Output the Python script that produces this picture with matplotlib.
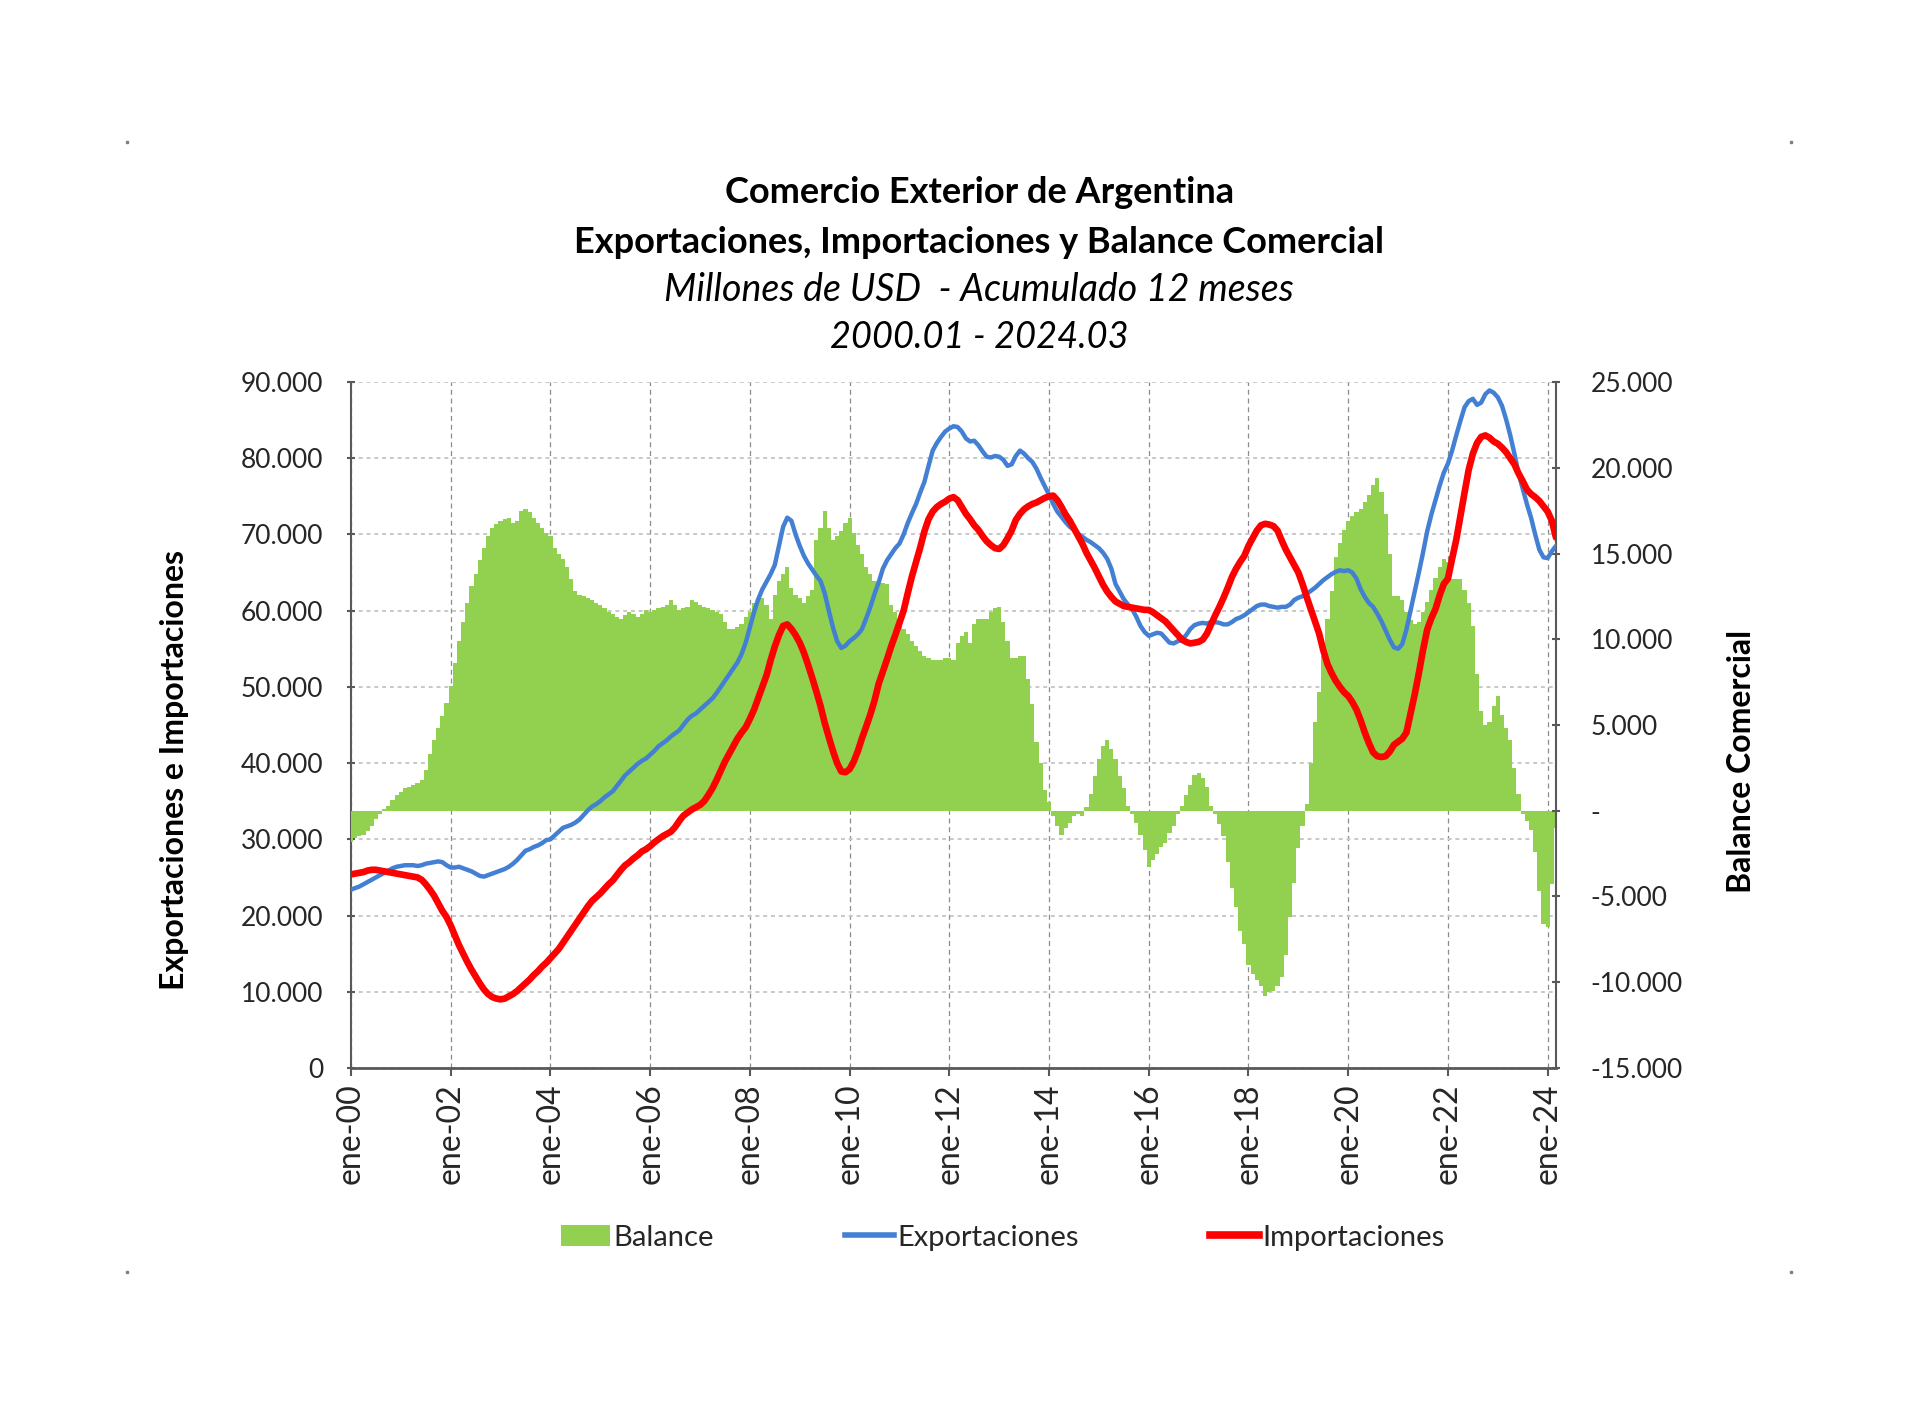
import numpy as np
import matplotlib
matplotlib.use('Agg')
import matplotlib.pyplot as plt
from matplotlib.patches import Patch
from matplotlib.lines import Line2D
from matplotlib.ticker import FuncFormatter

plt.rcParams['font.family'] = ['Lato', 'DejaVu Sans']

# Acumulado 12 meses, miles de millones de USD, mensual 2000.01 - 2024.03
exportaciones = [
    23.4, 23.6, 23.8, 24.1, 24.4, 24.7, 25.0, 25.3, 25.6, 25.9, 26.2, 26.4,  # 2000
    26.5, 26.6, 26.6, 26.6, 26.5, 26.6, 26.8, 26.9, 27.0, 27.1, 27.0, 26.6,  # 2001
    26.3, 26.3, 26.4, 26.2, 26.0, 25.8, 25.5, 25.2, 25.1, 25.3, 25.5, 25.7,  # 2002
    25.9, 26.1, 26.4, 26.8, 27.3, 27.9, 28.5, 28.7, 29.0, 29.2, 29.5, 29.9,  # 2003
    30.0, 30.5, 31.0, 31.5, 31.7, 31.9, 32.2, 32.6, 33.2, 33.8, 34.3, 34.6,  # 2004
    35.0, 35.5, 35.9, 36.3, 37.0, 37.7, 38.4, 38.9, 39.4, 39.9, 40.3, 40.6,  # 2005
    41.1, 41.6, 42.2, 42.6, 43.0, 43.5, 43.9, 44.3, 45.0, 45.7, 46.2, 46.5,  # 2006
    47.0, 47.5, 48.0, 48.5, 49.2, 50.0, 50.8, 51.6, 52.4, 53.2, 54.3, 55.8,  # 2007
    57.8, 59.8, 61.5, 62.8, 63.8, 64.8, 66.0, 68.5, 71.0, 72.2, 71.8, 70.0,  # 2008
    68.5, 67.2, 66.2, 65.4, 64.6, 63.9, 62.3, 60.0, 57.8, 56.0, 55.1, 55.4,  # 2009
    56.0, 56.4, 56.9, 57.6, 59.0, 60.5, 62.2, 63.7, 65.5, 66.6, 67.4, 68.2,  # 2010
    68.8, 70.0, 71.5, 72.8, 74.0, 75.5, 76.9, 79.0, 81.0, 82.0, 82.8, 83.5,  # 2011
    83.9, 84.2, 84.1, 83.5, 82.6, 82.2, 82.3, 81.7, 80.9, 80.2, 80.1, 80.3,  # 2012
    80.2, 79.8, 79.0, 79.2, 80.3, 81.0, 80.6, 80.0, 79.5, 78.6, 77.4, 76.3,  # 2013
    75.2, 74.0, 73.0, 72.3, 71.6, 71.0, 70.6, 70.1, 69.7, 69.3, 69.0, 68.6,  # 2014
    68.2, 67.6, 66.8, 65.5, 63.5, 62.5, 61.5, 60.8, 60.2, 59.2, 58.0, 57.2,  # 2015
    56.7, 56.9, 57.1, 57.0, 56.4, 55.8, 55.7, 56.0, 56.2, 56.8, 57.6, 58.1,  # 2016
    58.3, 58.4, 58.3, 58.5, 58.5, 58.4, 58.2, 58.2, 58.5, 58.9, 59.1, 59.4,  # 2017
    59.8, 60.2, 60.6, 60.8, 60.8, 60.6, 60.5, 60.4, 60.5, 60.5, 60.8, 61.4,  # 2018
    61.7, 61.9, 62.2, 62.6, 63.0, 63.5, 64.0, 64.4, 64.8, 65.1, 65.3, 65.2,  # 2019
    65.3, 65.0, 64.2, 62.8, 61.8, 61.0, 60.5, 59.6, 58.6, 57.4, 56.2, 55.2,  # 2020
    55.0, 55.6, 57.5, 60.0, 62.5, 65.0, 67.6, 70.4, 72.6, 74.5, 76.4, 78.1,  # 2021
    79.3, 81.0, 83.0, 84.9, 86.7, 87.5, 87.8, 87.0, 87.3, 88.4, 88.9, 88.6,  # 2022
    88.0, 86.9, 85.1, 83.0, 80.6, 78.0, 76.0, 74.0, 72.2, 70.0, 68.0, 67.0,  # 2023
    66.9, 67.8, 68.5,                                                        # 2024
]

importaciones = [
    25.4, 25.5, 25.6, 25.7, 25.9, 26.0, 26.0, 25.9, 25.8, 25.7, 25.6, 25.5,  # 2000
    25.4, 25.3, 25.2, 25.1, 25.0, 24.7, 24.1, 23.4, 22.6, 21.6, 20.6, 19.8,  # 2001
    18.7, 17.4, 16.1, 15.0, 13.9, 12.9, 12.0, 11.1, 10.3, 9.7, 9.3, 9.1,     # 2002
    9.0, 9.1, 9.4, 9.7, 10.1, 10.6, 11.1, 11.6, 12.2, 12.7, 13.3, 13.8,      # 2003
    14.4, 15.0, 15.6, 16.4, 17.2, 18.0, 18.8, 19.6, 20.4, 21.2, 21.9, 22.4,  # 2004
    22.9, 23.5, 24.1, 24.6, 25.3, 26.0, 26.6, 27.0, 27.5, 27.9, 28.4, 28.7,  # 2005
    29.1, 29.6, 30.0, 30.4, 30.7, 31.0, 31.6, 32.4, 33.1, 33.5, 33.9, 34.2,  # 2006
    34.5, 35.0, 35.8, 36.7, 37.8, 39.0, 40.2, 41.2, 42.2, 43.2, 44.0, 44.7,  # 2007
    45.8, 47.0, 48.5, 50.0, 51.5, 53.5, 55.3, 56.8, 58.0, 58.2, 57.6, 56.8,  # 2008
    55.8, 54.5, 52.9, 51.2, 49.4, 47.5, 45.3, 43.4, 41.6, 40.0, 38.9, 38.8,  # 2009
    39.2, 40.2, 41.6, 43.3, 44.8, 46.4, 48.2, 50.4, 52.0, 53.6, 55.3, 56.8,  # 2010
    58.4, 60.0, 62.3, 64.5, 66.4, 68.3, 70.4, 72.0, 73.0, 73.6, 74.0, 74.3,  # 2011
    74.7, 74.9, 74.5, 73.6, 72.7, 72.0, 71.2, 70.6, 69.8, 69.1, 68.6, 68.2,  # 2012
    68.1, 68.6, 69.5, 70.5, 71.9, 72.7, 73.3, 73.7, 74.0, 74.2, 74.5, 74.8,  # 2013
    75.0, 75.1, 74.5, 73.6, 72.6, 71.8, 70.8, 69.8, 68.8, 67.6, 66.6, 65.6,  # 2014
    64.5, 63.4, 62.5, 61.8, 61.2, 60.9, 60.6, 60.5, 60.4, 60.3, 60.2, 60.1,  # 2015
    60.1, 59.8, 59.4, 59.0, 58.6, 58.0, 57.4, 56.8, 56.2, 55.9, 55.7, 55.8,  # 2016
    55.9, 56.2, 57.0, 58.2, 59.4, 60.5, 61.7, 63.0, 64.4, 65.5, 66.4, 67.2,  # 2017
    68.5, 69.5, 70.5, 71.2, 71.4, 71.3, 71.1, 70.5, 69.2, 68.0, 67.0, 66.0,  # 2018
    65.0, 63.5, 61.8, 60.2, 58.6, 57.0, 54.8, 53.0, 51.8, 50.8, 50.0, 49.3,  # 2019
    48.8, 48.0, 47.0, 45.6, 44.0, 42.6, 41.4, 40.9, 40.8, 40.9, 41.5, 42.4,  # 2020
    42.8, 43.2, 44.0, 46.5, 49.0, 51.8, 54.8, 57.5, 59.0, 60.2, 62.0, 63.5,  # 2021
    64.2, 66.8, 69.3, 72.4, 75.5, 78.5, 80.6, 82.0, 82.8, 83.0, 82.7, 82.2,  # 2022
    81.9, 81.4, 80.8, 80.0, 79.2, 78.0, 77.0, 75.9, 75.3, 74.9, 74.4, 73.7,  # 2023
    73.0, 71.8, 69.6,                                                        # 2024
]

balance = [
    -1.8, -1.6, -1.5, -1.4, -1.2, -0.9, -0.5, -0.2, 0.1, 0.3, 0.6, 0.9,     # 2000
    1.1, 1.3, 1.4, 1.5, 1.6, 1.8, 2.4, 3.3, 4.1, 4.8, 5.5, 6.3,              # 2001
    7.3, 8.6, 9.9, 11.0, 12.1, 13.1, 13.8, 14.6, 15.3, 16.0, 16.5, 16.7,     # 2002
    16.9, 17.0, 17.1, 16.8, 16.9, 17.5, 17.6, 17.4, 17.1, 16.8, 16.5, 16.2,  # 2003
    16.0, 15.3, 15.0, 14.7, 14.2, 13.5, 12.8, 12.6, 12.5, 12.4, 12.3, 12.1,  # 2004
    12.0, 11.8, 11.6, 11.5, 11.3, 11.2, 11.4, 11.6, 11.5, 11.3, 11.5, 11.7,  # 2005
    11.6, 11.7, 11.8, 11.9, 12.0, 12.3, 12.0, 11.7, 11.8, 11.9, 12.3, 12.2,  # 2006
    12.0, 11.9, 11.8, 11.7, 11.6, 11.5, 11.0, 10.6, 10.6, 10.7, 10.9, 11.3,  # 2007
    11.6, 12.1, 12.3, 12.4, 12.0, 11.2, 12.6, 13.4, 13.8, 14.2, 13.0, 12.6,  # 2008
    12.4, 12.1, 12.5, 12.9, 15.8, 16.5, 17.5, 16.5, 15.8, 16.0, 16.3, 16.8,  # 2009
    17.1, 16.2, 15.5, 15.0, 14.2, 13.8, 13.4, 13.3, 13.3, 13.2, 12.0, 11.6,  # 2010
    11.2, 10.6, 10.3, 9.9, 9.6, 9.3, 9.0, 8.9, 8.8, 8.8, 8.8, 8.9,           # 2011
    8.9, 8.8, 9.8, 10.2, 10.4, 9.8, 10.9, 11.2, 11.2, 11.2, 11.6, 11.8,      # 2012
    11.9, 11.0, 9.9, 8.9, 8.9, 9.0, 9.0, 7.7, 6.2, 4.0, 2.8, 1.2,            # 2013
    0.5, -0.3, -0.9, -1.4, -1.0, -0.7, -0.3, -0.2, -0.3, 0.2, 1.0, 2.0,      # 2014
    3.0, 3.8, 4.1, 3.6, 3.0, 2.0, 1.3, 0.3, -0.2, -0.7, -1.4, -2.3,          # 2015
    -3.3, -2.9, -2.5, -2.1, -1.9, -1.3, -0.9, -0.2, 0.3, 0.9, 1.5, 2.1,      # 2016
    2.2, 1.9, 1.4, 0.3, -0.2, -0.8, -1.5, -3.0, -4.5, -5.6, -7.0, -7.8,      # 2017
    -9.0, -9.5, -9.9, -10.2, -10.8, -10.6, -10.5, -10.2, -9.7, -8.4, -6.2, -4.2,  # 2018
    -2.2, -0.9, 0.4, 2.8, 5.2, 6.9, 9.0, 11.2, 12.8, 14.8, 15.6, 16.4,       # 2019
    16.9, 17.2, 17.4, 17.6, 18.0, 18.4, 19.0, 19.4, 18.6, 17.3, 15.0, 12.5,  # 2020
    12.5, 12.3, 11.6, 11.1, 10.9, 11.0, 11.6, 12.2, 12.9, 13.6, 14.2, 14.7,  # 2021
    14.5, 13.5, 13.5, 13.5, 12.9, 12.1, 10.8, 8.0, 5.8, 5.0, 5.2, 6.1,       # 2022
    6.7, 5.6, 4.8, 4.1, 2.5, 1.0, -0.2, -0.6, -1.1, -2.4, -4.7, -6.6,        # 2023
    -6.8, -4.3, -1.0,                                                        # 2024
]

tick_labels = ['ene-00', 'ene-02', 'ene-04', 'ene-06', 'ene-08', 'ene-10', 'ene-12',
               'ene-14', 'ene-16', 'ene-18', 'ene-20', 'ene-22', 'ene-24']

assert len(exportaciones) == len(importaciones) == len(balance) == 291

expo = np.array(exportaciones) * 1000
impo = np.array(importaciones) * 1000
bal = np.array(balance) * 1000
x = np.arange(len(expo))

GREEN = '#92D050'
BLUE = '#4380D3'
RED = '#FF0000'
TXT = '#262626'
AXC = '#595959'

fig = plt.figure(figsize=(19.2, 14.16), dpi=100)
pos = [0.1828, 0.2458, 0.6276, 0.4844]

# base axes: left scale + gridlines
ax = fig.add_axes(pos)
# bars on the right scale
ax2 = ax.twinx()
# lines on top of the bars, same scale as left
ax3 = ax.twinx()

ax2.bar(x, bal, width=1.0, color=GREEN, linewidth=0, align='center')
ax3.plot(x, expo, color=BLUE, lw=3.2, solid_capstyle='round')
ax3.plot(x, impo, color=RED, lw=4.8, solid_capstyle='round')

ax.set_xlim(0, len(x) - 1)
ax.set_ylim(0, 90000)
ax3.set_ylim(0, 90000)
ax2.set_ylim(-15000, 25000)

ax.set_xticks(np.arange(0, len(x), 24))
ax.set_xticklabels(tick_labels, rotation=90, fontsize=23, color=TXT)
ax.set_yticks(np.arange(0, 90001, 10000))
ax2.set_yticks(np.arange(-15000, 25001, 5000))


def miles(v, _):
    return f'{v:,.0f}'.replace(',', '.')


def miles_guion(v, _):
    if abs(v) < 1:
        return '-'
    return f'{v:,.0f}'.replace(',', '.')


ax.yaxis.set_major_formatter(FuncFormatter(miles))
ax2.yaxis.set_major_formatter(FuncFormatter(miles_guion))

ax.tick_params(axis='y', direction='inout', length=6, width=1.5, color=AXC,
               labelsize=19, labelcolor=TXT, pad=17)
ax2.tick_params(axis='y', direction='inout', length=6, width=1.5, color=AXC,
                labelsize=19, labelcolor=TXT, pad=22)
ax.tick_params(axis='x', direction='out', length=6, width=1.5, color=AXC, pad=5)
ax3.set_yticks([])

ax.grid(axis='x', linestyle=(0, (4, 3)), color='#8C8C8C', lw=0.9)
ax.grid(axis='y', linestyle=(0, (2, 2)), color='#C8C8C8', lw=1.4)
ax.set_axisbelow(True)

for s in ['top', 'right']:
    ax.spines[s].set_visible(False)
for s in ['top', 'left', 'bottom']:
    ax2.spines[s].set_visible(False)
for s in ax3.spines.values():
    s.set_visible(False)
ax.spines['left'].set_color(AXC)
ax.spines['left'].set_linewidth(1.5)
ax.spines['bottom'].set_color(AXC)
ax.spines['bottom'].set_linewidth(2)
ax2.spines['right'].set_color(AXC)
ax2.spines['right'].set_linewidth(1.5)

# titles
fig.text(0.510, 0.864, 'Comercio Exterior de Argentina', ha='center', va='center',
         fontsize=26, fontweight='bold', color='black')
fig.text(0.510, 0.829, 'Exportaciones, Importaciones y Balance Comercial', ha='center',
         va='center', fontsize=26, fontweight='bold', color='black')
fig.text(0.510, 0.795, 'Millones de USD  - Acumulado 12 meses', ha='center', va='center',
         fontsize=27, fontstyle='italic', color='black')
fig.text(0.510, 0.762, '2000.01 - 2024.03', ha='center', va='center',
         fontsize=26, fontstyle='italic', color='black')

fig.text(0.091, 0.456, 'Exportaciones e Importaciones', rotation=90, ha='center',
         va='center', fontsize=23, fontweight='bold', color='black')
fig.text(0.907, 0.462, 'Balance Comercial', rotation=90, ha='center', va='center',
         fontsize=23, fontweight='bold', color='black')

handles = [Patch(facecolor=GREEN, edgecolor='none'),
           Line2D([], [], color=BLUE, lw=4),
           Line2D([], [], color=RED, lw=5.5)]
fig.legend(handles, ['Balance', 'Exportaciones', 'Importaciones'], loc='center left',
           bbox_to_anchor=(0.292, 0.126), ncol=3, frameon=False, fontsize=21,
           handlelength=1.68, handletextpad=0.12, columnspacing=4.5,
           borderpad=0, borderaxespad=0, labelcolor=TXT)

# corner marks of the original chart area
for cx, cy in [(0.066, 0.900), (0.933, 0.900), (0.066, 0.102), (0.933, 0.102)]:
    fig.add_artist(Line2D([cx], [cy], marker='s', markersize=1.5, color='#7F7F7F',
                          transform=fig.transFigure))

fig.savefig('out.png', dpi=100, facecolor='white')
